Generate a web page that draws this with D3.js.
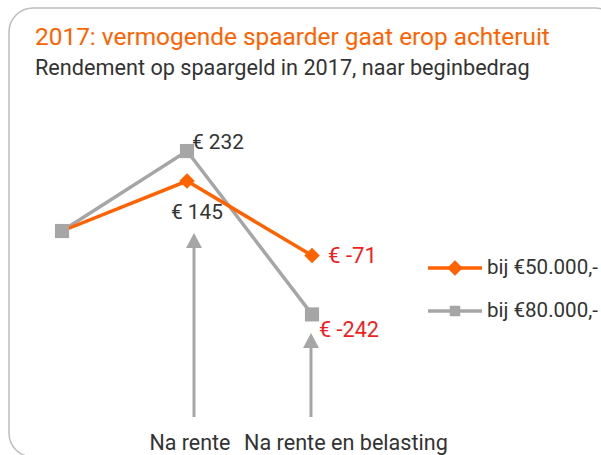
<!DOCTYPE html>
<html><head><meta charset="utf-8">
<script src="https://cdn.jsdelivr.net/npm/d3@7"></script>
<style>
html,body{margin:0;padding:0;background:#fff;}
svg{display:block;}
text{font-family:Roboto,"Noto Sans",sans-serif;}
</style></head>
<body>
<svg id="c" width="601" height="455"></svg>
<script>
const categories = ["Begin", "Na rente", "Na rente en belasting"];
const series50 = [0, 145, -71];
const series80 = [0, 232, -242];
const seriesNames = ["bij €50.000,-", "bij €80.000,-"];
const valueLabels50 = ["", "€ 145", "€ -71"];
const valueLabels80 = ["", "€ 232", "€ -242"];
const title = "2017: vermogende spaarder gaat erop achteruit";
const subtitle = "Rendement op spaargeld in 2017, naar beginbedrag";
const annotationLabels = ["Na rente", "Na rente en belasting"];

const ORANGE = "#FF6200", GRAY = "#A6A6A6", RED = "#F01E1E", TXT = "#333333";
const svg = d3.select("#c");

svg.append("rect").attr("x", 9).attr("y", 8).attr("width", 610).attr("height", 449)
  .attr("rx", 24).attr("fill", "none").attr("stroke", "#BDBDBD").attr("stroke-width", 1.5);

function fitText(sel, w) {
  const n = sel.node(); const cur = n.getComputedTextLength();
  const fs = parseFloat(sel.attr("font-size"));
  sel.attr("font-size", fs * w / cur);
  return sel;
}

fitText(svg.append("text").attr("x", 35).attr("y", 45).attr("font-size", 24)
  .attr("fill", ORANGE).text(title), 515);
fitText(svg.append("text").attr("x", 35).attr("y", 75).attr("font-size", 20)
  .attr("fill", TXT).text(subtitle), 495);

const x = d3.scalePoint().domain(categories).range([62, 312]);
const y = d3.scaleLinear().domain([-300, 300]).range([334.4, 127.6]);

// arrows
const arrowCfg = [
  {cat: categories[1], dx: 7, top: 233},
  {cat: categories[2], dx: -1, top: 333}
];
const arrowBottom = 417;
arrowCfg.forEach(a => {
  const ax = x(a.cat) + a.dx;
  svg.append("line").attr("x1", ax).attr("x2", ax).attr("y1", arrowBottom).attr("y2", a.top + 12)
    .attr("stroke", GRAY).attr("stroke-width", 3);
  svg.append("path").attr("d", `M${ax},${a.top} L${ax-8},${a.top+15} L${ax+8},${a.top+15} Z`)
    .attr("fill", GRAY);
});
fitText(svg.append("text").attr("x", 190).attr("y", 450).attr("text-anchor", "middle")
  .attr("font-size", 20).attr("fill", TXT).text(annotationLabels[0]), 81);
fitText(svg.append("text").attr("x", 346).attr("y", 450).attr("text-anchor", "middle")
  .attr("font-size", 20).attr("fill", TXT).text(annotationLabels[1]), 204);

const line = d3.line().x((d, i) => x(categories[i])).y(d => y(d));

svg.append("path").datum(series80).attr("d", line).attr("fill", "none")
  .attr("stroke", GRAY).attr("stroke-width", 3.5);
svg.append("path").datum(series50).attr("d", line).attr("fill", "none")
  .attr("stroke", ORANGE).attr("stroke-width", 3.5);

const sq = d3.symbol().type(d3.symbolSquare).size(200);
const dm = d3.symbol().type(d3.symbolSquare).size(120);

series80.forEach((v, i) => {
  svg.append("path").attr("d", sq).attr("transform", `translate(${x(categories[i])},${y(v)})`).attr("fill", GRAY);
});
series50.forEach((v, i) => {
  if (i === 0) return;
  svg.append("path").attr("d", dm).attr("transform", `translate(${x(categories[i])},${y(v)}) rotate(45)`).attr("fill", ORANGE);
});

// value labels
const vfs = 20;
fitText(svg.append("text").attr("x", x(categories[1]) + 5).attr("y", y(series80[1]) - 2)
  .attr("font-size", vfs).attr("fill", TXT).text(valueLabels80[1]), 52);
fitText(svg.append("text").attr("x", x(categories[1]) - 16).attr("y", y(series50[1]) + 38)
  .attr("font-size", vfs).attr("fill", TXT).text(valueLabels50[1]), 52);
fitText(svg.append("text").attr("x", x(categories[2]) + 16).attr("y", y(series50[2]) + 8)
  .attr("font-size", vfs).attr("fill", RED).text(valueLabels50[2]), 49);
fitText(svg.append("text").attr("x", x(categories[2]) + 7).attr("y", y(series80[2]) + 23)
  .attr("font-size", vfs).attr("fill", RED).text(valueLabels80[2]), 60);

// legend
const leg = [{name: seriesNames[0], c: ORANGE, sym: dm, rot: 45, y: 268}, {name: seriesNames[1], c: GRAY, sym: d3.symbol().type(d3.symbolSquare).size(110), rot: 0, y: 311}];
leg.forEach(l => {
  svg.append("line").attr("x1", 428).attr("x2", 482).attr("y1", l.y).attr("y2", l.y)
    .attr("stroke", l.c).attr("stroke-width", 3.5);
  svg.append("path").attr("d", l.sym).attr("transform", `translate(455,${l.y}) rotate(${l.rot})`).attr("fill", l.c);
  fitText(svg.append("text").attr("x", 487).attr("y", l.y + 6).attr("font-size", vfs).attr("fill", TXT).text(l.name), 111);
});
</script>
</body></html>
